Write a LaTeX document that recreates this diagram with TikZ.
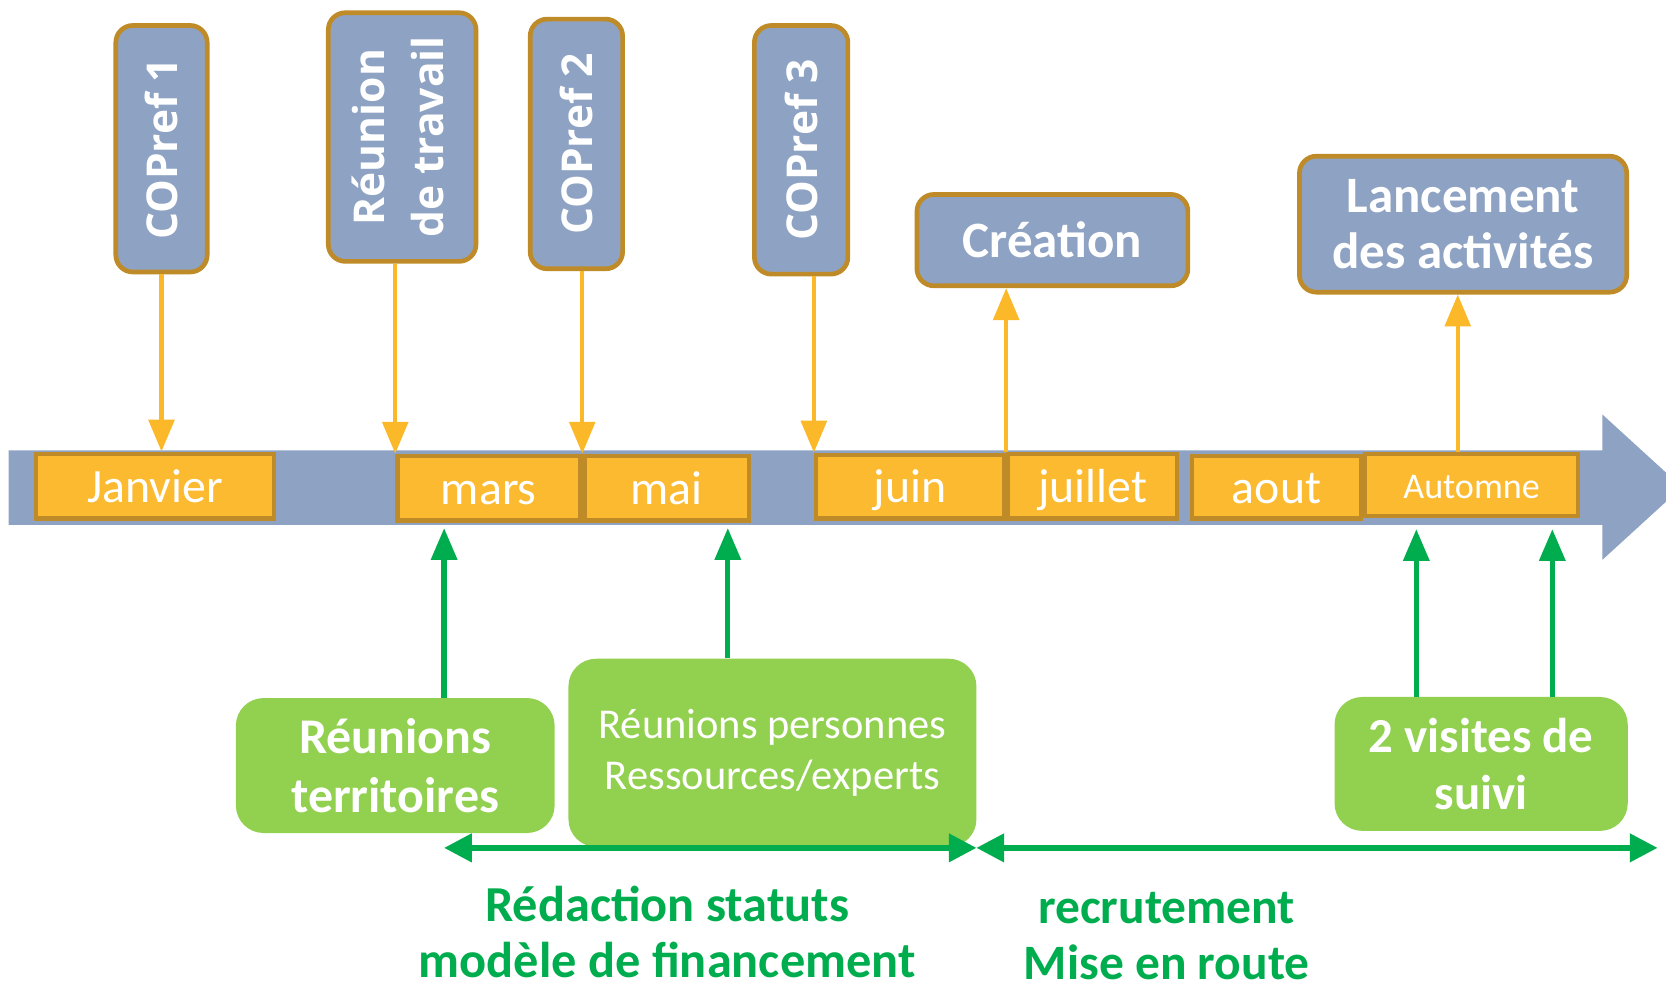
\documentclass[tikz,border=0pt]{standalone}
\usepackage{fontspec}
\usepackage{graphicx}
\setmainfont{Carlito}
\newfontfamily\vfont{Open Sans}
\newcommand\vtx{\vfont\bfseries\fontsize{20}{28}\selectfont}
\usetikzlibrary{arrows.meta,calc}
\definecolor{bandblue}{HTML}{8EA3C3}
\definecolor{mfill}{HTML}{FBBA2F}
\definecolor{gold}{HTML}{BF8B28}
\definecolor{ltgreen}{HTML}{92D050}
\definecolor{dkgreen}{HTML}{00AD4E}
\definecolor{oarrow}{HTML}{FBB829}
\begin{document}
\begin{tikzpicture}[x=0.5pt,y=-0.5pt,
 month/.style={draw=gold, line width=2pt, fill=mfill, text=white, font=\fontsize{22.5}{26}\selectfont, inner sep=0pt, text height=16pt, text depth=1pt},
 topbox/.style={draw=gold, line width=2.2pt, fill=bandblue, rounded corners=8pt, text=white, inner sep=0pt, align=center},
 htxt/.style={font=\bfseries\fontsize{24}{26.5}\selectfont},
 gbox/.style={fill=ltgreen, rounded corners=13pt, text=white, inner sep=0pt, align=center},
 oarr/.style={draw=oarrow, line width=2pt, -{Triangle[width=12pt,length=15pt]}},
 garr/.style={draw=dkgreen, line width=2.5pt, -{Triangle[width=12pt,length=15pt]}},
 darr/.style={draw=dkgreen, line width=2.5pt, {Triangle[width=13pt,length=13pt]}-{Triangle[width=13pt,length=13pt]}},
 glabel/.style={text=dkgreen, font=\bfseries\fontsize{23.7}{26.5}\selectfont, align=center}
]
\clip (0,0) rectangle (1568,929);
\useasboundingbox (0,0) rectangle (1568,929);

% timeline band with arrow head
\fill[bandblue] (8,424) -- (1508,424) -- (1508,390) -- (1583,458.5) -- (1508,527) -- (1508,494) -- (8,494) -- cycle;

% months
\node[month, minimum width=112pt, minimum height=30.5pt] (jan) at (146,457.5) {Janvier};
\node[month, minimum width=86pt, minimum height=30.5pt] (mar) at (460,459.5) {mars};
\node[month, minimum width=77.5pt, minimum height=30.5pt] (mai) at (627.5,459.5) {mai};
\node[month, minimum width=88.5pt, minimum height=30pt] (jun) at (856.5,458) {juin};
\node[month, minimum width=79.5pt, minimum height=30.5pt] (jul) at (1028.5,457.5) {juillet};
\node[month, minimum width=79.5pt, minimum height=29.5pt] (aou) at (1201.5,458.5) {aout};
\node[month, minimum width=100pt, minimum height=29.5pt, font=\fontsize{17}{20}\selectfont, text height=13pt, text depth=0.5pt] (aut) at (1385,456.5) {Automne};

% top boxes
\node[topbox, minimum width=43pt, minimum height=116pt] (c1) at (152,140) {\rotatebox{90}{\vtx COPref 1}};
\node[topbox, minimum width=69.5pt, minimum height=117pt] (rt) at (378.5,129) {\rotatebox{90}{\vtx\begin{tabular}{@{}c@{}}Réunion\\de travail\end{tabular}}};
\node[topbox, minimum width=43.5pt, minimum height=117.5pt] (c2) at (542.5,135.5) {\rotatebox{90}{\vtx COPref 2}};
\node[topbox, minimum width=44pt, minimum height=117pt] (c3) at (754,141) {\rotatebox{90}{\vtx COPref 3}};
\node[topbox, minimum width=127.5pt, minimum height=43pt, htxt] (cr) at (990.5,226) {Création};
\node[topbox, minimum width=154pt, minimum height=64pt, htxt] (lan) at (1377,211) {Lancement\\des activités};

% orange arrows
\draw[oarr] (c1.south) -- (c1.south |- jan.north);
\draw[oarr] (rt.south -| mar.north west) -- (mar.north west);
\draw[oarr] (c2.south -| mai.north west) -- (mai.north west);
\draw[oarr] (c3.south -| jun.north west) -- (jun.north west);
\draw[oarr] (jul.north west) -- (jul.north west |- cr.south);
\coordinate (la) at ($(lan.south)+(-5,0)$);
\draw[oarr] (la |- aut.north) -- (la);

% green boxes
\node[gbox, minimum width=150pt, minimum height=63.5pt, font=\bfseries\fontsize{23.5}{27.5}\selectfont] (rter) at (372,720.5) {Réunions\\territoires};
\node[gbox, minimum width=192pt, minimum height=88.5pt, font=\fontsize{20}{24}\selectfont] (rper) at (727,708.5) {Réunions personnes\\Ressources/experts};
\node[gbox, minimum width=138pt, minimum height=63pt, font=\bfseries\fontsize{23}{26.5}\selectfont] (vis) at (1394,719) {2 visites de\\suivi};

% green arrows
\coordinate (g1) at ($(rter.north)+(46,0)$);
\draw[garr] (g1) -- ($(g1 |- mar.south)+(0,5)$);
\coordinate (g2) at ($(rper.north)+(-42,0)$);
\draw[garr] (g2) -- ($(g2 |- mai.south)+(0,5)$);
\coordinate (g3) at ($(vis.north)+(-61,0)$);
\draw[garr] (g3) -- ($(g3 |- aut.south)+(0,10)$);
\coordinate (g4) at ($(vis.north)+(67,0)$);
\draw[garr] (g4) -- ($(g4 |- aut.south)+(0,10)$);

% period arrows
\coordinate (d1) at (418,798);
\coordinate (d2) at (919,798);
\coordinate (d3) at (1560,798);
\draw[darr] (d1) -- (d2);
\draw[darr] (d2) -- (d3);

% labels
\node[glabel] (lab1) at (628,877) {Rédaction statuts\\modèle de financement};
\node[glabel, font=\bfseries\fontsize{23.3}{26.5}\selectfont] (lab2) at (1098,881) {recrutement\\Mise en route};
\end{tikzpicture}
\end{document}
